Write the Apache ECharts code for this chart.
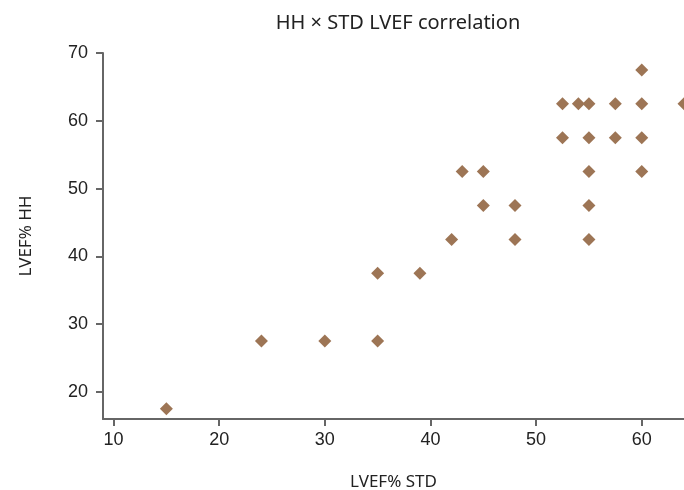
<!DOCTYPE html>
<html>
<head>
<meta charset="utf-8">
<script src="https://cdn.jsdelivr.net/npm/echarts@6/dist/echarts.min.js"></script>
<style>html,body{margin:0;padding:0;background:#fff}#c{width:684px;height:490px}</style>
</head>
<body>
<div id="c"></div>
<script>
const stdLVEF = [15, 24, 30, 35, 35, 39, 42, 43, 45, 45, 48, 48, 52.5, 52.5, 54, 55, 55, 55, 55, 55, 57.5, 57.5, 60, 60, 60, 60, 64];
const hhLVEF  = [17.5, 27.5, 27.5, 27.5, 37.5, 37.5, 42.5, 52.5, 52.5, 47.5, 47.5, 42.5, 62.5, 57.5, 62.5, 62.5, 57.5, 52.5, 47.5, 42.5, 62.5, 57.5, 67.5, 62.5, 57.5, 52.5, 62.5];
const xTicks = [10, 20, 30, 40, 50, 60];
const yTicks = [20, 30, 40, 50, 60, 70];
const titleText = 'HH × STD LVEF correlation';
const xName = 'LVEF% STD';
const yName = 'LVEF% HH';

const chart = echarts.init(document.getElementById('c'), null, {renderer: 'canvas'});
const lineCol = '#666';
function axis(extra, ticks, margin) {
  return Object.assign({
    type: 'value',
    axisLine: {show: true, lineStyle: {color: lineCol, width: 2}},
    axisTick: {show: true, inside: false, length: 7, customValues: ticks, lineStyle: {color: lineCol, width: 2}},
    axisLabel: {color: '#222', fontSize: 18, fontFamily: 'Liberation Sans', margin: margin, customValues: ticks},
    splitLine: {show: false},
    nameLocation: 'middle',
    nameTextStyle: {color: '#222', fontSize: 17, fontFamily: 'Noto Sans'}
  }, extra);
}
chart.setOption({
  animation: false,
  backgroundColor: '#fff',
  title: {
    text: titleText, left: 393, top: 8, textAlign: 'center',
    textStyle: {fontSize: 20, fontWeight: 'normal', color: '#222', fontFamily: 'Noto Sans'}
  },
  grid: {left: 103, right: 0, top: 53, bottom: 71, containLabel: false, outerBoundsMode: 'none'},
  xAxis: axis({min: 9, max: 64, name: xName, nameGap: 55}, xTicks, 12),
  yAxis: axis({min: 16, max: 70, name: yName, nameGap: 68}, yTicks, 15),
  series: [{
    type: 'scatter',
    symbol: 'diamond',
    symbolSize: 13,
    clip: false,
    itemStyle: {color: '#9d7555', opacity: 1},
    data: stdLVEF.map((x, i) => [x, hhLVEF[i]])
  }]
});
</script>
</body>
</html>
